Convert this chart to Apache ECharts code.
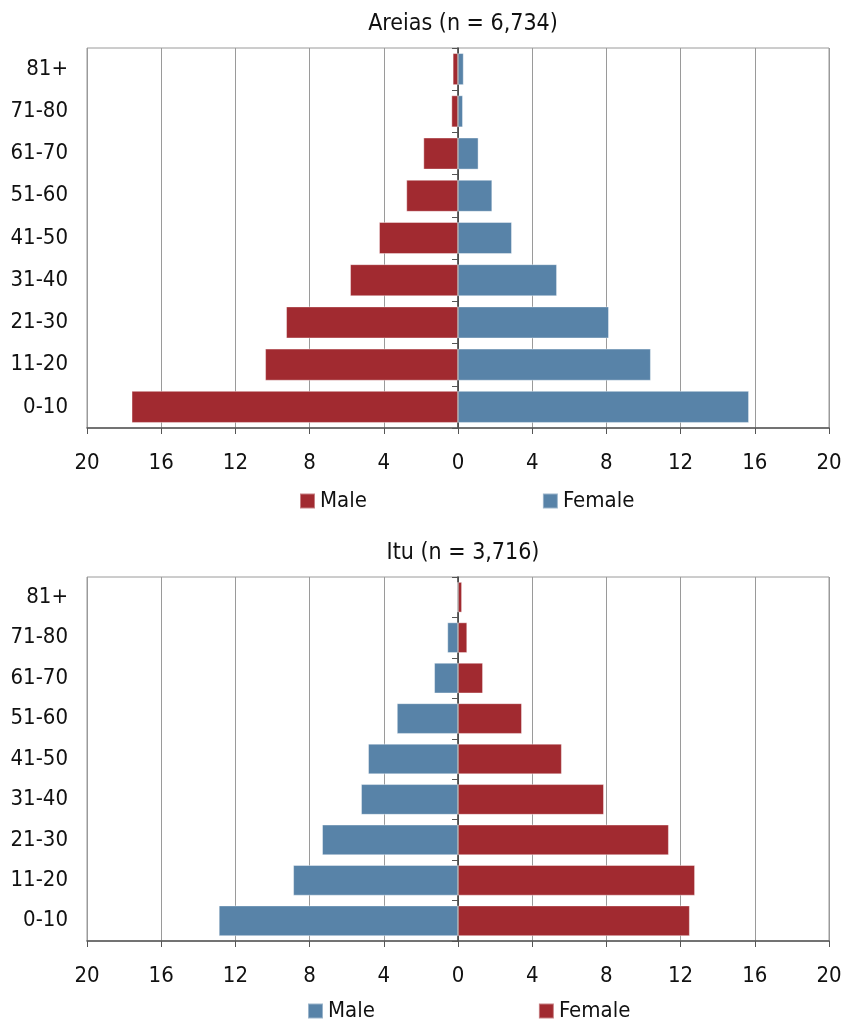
<!DOCTYPE html>
<html><head><meta charset="utf-8">
<script src="https://cdn.jsdelivr.net/npm/echarts@6/dist/echarts.min.js"></script>
<style>html,body{margin:0;padding:0;background:#fff}#c{width:846px;height:1023px}</style>
</head><body><div id="c"></div>
<script>
const ageGroups = ['0-10','11-20','21-30','31-40','41-50','51-60','61-70','71-80','81+'];
const areiasTitle = 'Areias (n = 6,734)';
const areiasMale = [17.6, 10.4, 9.27, 5.82, 4.26, 2.79, 1.87, 0.36, 0.29];
const areiasFemale = [15.69, 10.4, 8.14, 5.34, 2.91, 1.85, 1.11, 0.27, 0.31];
const ituTitle = 'Itu (n = 3,716)';
const ituMale = [12.9, 8.89, 7.33, 5.23, 4.85, 3.3, 1.29, 0.58, 0.05];
const ituFemale = [12.5, 12.78, 11.37, 7.87, 5.6, 3.45, 1.35, 0.5, 0.22];
const xTicks = { min: -20, max: 20, interval: 4 };

const RED = '#A12A30', BLUE = '#5883A8';
const FONT = "'DejaVu Sans Condensed','DejaVu Sans',sans-serif";
const chart = echarts.init(document.getElementById('c'), null, {renderer:'canvas'});

function xAxis(gi){
  return {
    type:'value', gridIndex:gi, min:xTicks.min, max:xTicks.max, interval:xTicks.interval,
    axisLine:{show:true, onZero:false, lineStyle:{color:'#555', width:1.5}},
    axisTick:{show:true, length:6, lineStyle:{color:'#555'}},
    axisLabel:{formatter:v=>Math.abs(v), color:'#111', fontSize:22, fontFamily:FONT, margin:24},
    splitLine:{show:true, lineStyle:{color:'#9a9a9a', width:1}}
  };
}
function yAxes(gi){
  return [{
    type:'category', gridIndex:gi, data:ageGroups, position:'left',
    axisLine:{show:false, onZero:false}, axisTick:{show:false},
    axisLabel:{color:'#111', fontSize:22, fontFamily:FONT, margin:19}
  },{
    type:'category', gridIndex:gi, data:ageGroups, position:'right',
    axisLine:{show:true, onZero:true, lineStyle:{color:'#333', width:1.5}},
    axisTick:{show:true, inside:true, length:6, lineStyle:{color:'#555'}},
    axisLabel:{show:false}
  }];
}
function bars(gi, male, female, mColor, fColor, stack){
  return [{
    name:'Male', type:'bar', xAxisIndex:gi, yAxisIndex:gi*2, stack:stack, barWidth:'76%',
    data:male.map(v=>-v), itemStyle:{color:mColor, borderColor:'rgba(255,255,255,0.4)', borderWidth:1}
  },{
    name:'Female', type:'bar', xAxisIndex:gi, yAxisIndex:gi*2, stack:stack, barWidth:'76%',
    data:female, itemStyle:{color:fColor, borderColor:'rgba(255,255,255,0.4)', borderWidth:1}
  }];
}
const ya = yAxes(0), yb = yAxes(1);
const option = {
  animation:false,
  title:[
    {text:areiasTitle, left:458, textAlign:'center', top:8, textStyle:{fontSize:23, fontWeight:'normal', color:'#111', fontFamily:FONT}},
    {text:ituTitle, left:458, textAlign:'center', top:537, textStyle:{fontSize:23, fontWeight:'normal', color:'#111', fontFamily:FONT}}
  ],
  legend:[
    {left:294, top:485, itemWidth:15, itemHeight:15, itemGap:175, icon:'rect',
     textStyle:{fontSize:22, color:'#111', fontFamily:FONT},
     data:[{name:'Male', itemStyle:{color:RED}},{name:'Female', itemStyle:{color:BLUE}}], selectedMode:false},
    {left:302, top:995, itemWidth:15, itemHeight:15, itemGap:163, icon:'rect',
     textStyle:{fontSize:22, color:'#111', fontFamily:FONT},
     data:[{name:'Male', itemStyle:{color:BLUE}},{name:'Female', itemStyle:{color:RED}}], selectedMode:false}
  ],
  grid:[
    {left:87, top:48, width:742, height:380, show:true, borderColor:'#9a9a9a', borderWidth:1, backgroundColor:'transparent'},
    {left:87, top:577, width:742, height:364, show:true, borderColor:'#9a9a9a', borderWidth:1, backgroundColor:'transparent'}
  ],
  xAxis:[xAxis(0), xAxis(1)],
  yAxis:[ya[0], ya[1], yb[0], yb[1]],
  series:[
    ...bars(0, areiasMale, areiasFemale, RED, BLUE, 'a'),
    ...bars(1, ituMale, ituFemale, BLUE, RED, 'b')
  ]
};
chart.setOption(option);
</script></body></html>
